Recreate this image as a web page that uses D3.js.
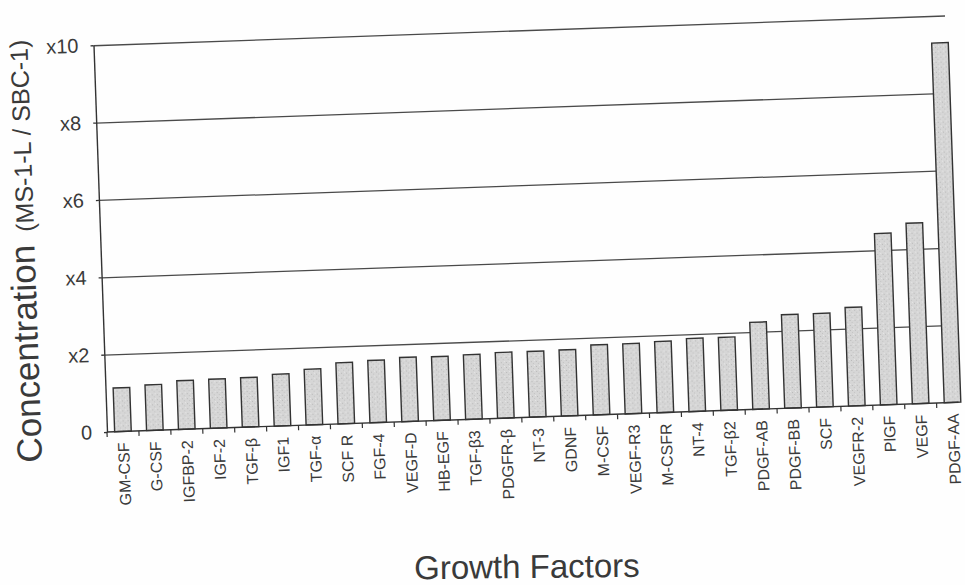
<!DOCTYPE html>
<html>
<head>
<meta charset="utf-8">
<script src="https://cdn.jsdelivr.net/npm/d3@7/dist/d3.min.js"></script>
<style>
  html, body { margin: 0; padding: 0; background: #ffffff; }
  svg { display: block; }
  text { font-family: "Liberation Sans", Arial, Helvetica, sans-serif; fill: #3a3a3a; }
</style>
</head>
<body>
<svg id="chart" width="965" height="585"></svg>
<script>
const categories = ["GM-CSF","G-CSF","IGFBP-2","IGF-2","TGF-β","IGF1","TGF-α","SCF R","FGF-4","VEGF-D",
  "HB-EGF","TGF-β3","PDGFR-β","NT-3","GDNF","M-CSF","VEGF-R3","M-CSFR","NT-4","TGF-β2",
  "PDGF-AB","PDGF-BB","SCF","VEGFR-2","PlGF","VEGF","PDGF-AA"];
const values = [1.13,1.18,1.26,1.27,1.28,1.34,1.44,1.58,1.61,1.66,
  1.65,1.67,1.70,1.70,1.71,1.81,1.81,1.84,1.89,1.89,
  2.25,2.42,2.42,2.55,4.43,4.67,9.3];
const yTicks = [0,2,4,6,8,10];
const yTickLabels = ["0","x2","x4","x6","x8","x10"];
const xTitle = "Growth Factors";
const yTitleMain = "Concentration";
const yTitleSub = "(MS-1-L / SBC-1)";

const svg = d3.select("#chart");
const W = 965, H = 585;
const mLeft = 107, mTop = 45, pWidth = 862, pHeight = 387, gridWidth = 852;

// stipple pattern for bars
const defs = svg.append("defs");
const pat = defs.append("pattern").attr("id","stip").attr("patternUnits","userSpaceOnUse")
  .attr("width",5).attr("height",5);
pat.append("rect").attr("width",5).attr("height",5).attr("fill","#d6d6d6");
pat.append("rect").attr("x",1).attr("y",1).attr("width",1).attr("height",1).attr("fill","#b8b8b8");
pat.append("rect").attr("x",3).attr("y",3).attr("width",1).attr("height",1).attr("fill","#c2c2c2");
pat.append("rect").attr("x",4).attr("y",0).attr("width",1).attr("height",1).attr("fill","#e8e8e8");

svg.append("rect").attr("width",W).attr("height",H).attr("fill","#fefefe");

const root = svg.append("g").attr("transform", `rotate(-2, ${mLeft}, ${mTop + pHeight})`);
const g = root.append("g").attr("transform", `translate(${mLeft},${mTop})`);

const x = d3.scaleBand().domain(categories).range([0, pWidth]).paddingInner(0.48).paddingOuter(0.24);
const y = d3.scaleLinear().domain([0, 10]).range([pHeight, 0]);

// gridlines
const grid = g.append("g").call(d3.axisLeft(y).tickValues(yTicks.filter(d => d > 0)).tickSize(-gridWidth).tickFormat(""));
grid.select(".domain").remove();
grid.selectAll("line").attr("stroke","#4a4a4a").attr("stroke-width",1.3);

// bars
g.append("g").selectAll("rect").data(categories).join("rect")
  .attr("x", d => x(d))
  .attr("y", (d,i) => y(values[i]))
  .attr("width", x.bandwidth())
  .attr("height", (d,i) => y(0) - y(values[i]))
  .attr("fill", "url(#stip)")
  .attr("stroke", "#333")
  .attr("stroke-width", 1.4);

// y axis with labels
const yAxis = g.append("g").call(d3.axisLeft(y).tickValues(yTicks)
  .tickFormat((d,i) => yTickLabels[i]).tickSize(3).tickSizeOuter(0).tickPadding(12));
yAxis.select(".domain").attr("stroke","#333").attr("stroke-width",1.4);
yAxis.selectAll("line").attr("stroke","#333").attr("stroke-width",1.3);
yAxis.selectAll("text").style("font-size","20px").attr("fill","#3a3a3a");

// x axis baseline and boundary ticks
g.append("line").attr("x1",0).attr("x2",gridWidth).attr("y1",y(0)).attr("y2",y(0))
  .attr("stroke","#333").attr("stroke-width",1.4);
const bounds = [0].concat(categories.map(c => x(c) + x.bandwidth() + x.step() * x.paddingInner() / 2));
g.append("g").selectAll("line").data(bounds.filter(d => d <= gridWidth)).join("line")
  .attr("x1", d => d).attr("x2", d => d)
  .attr("y1", y(0)).attr("y2", y(0) + 5)
  .attr("stroke","#333").attr("stroke-width",1.2);

// x labels
g.append("g").selectAll("text").data(categories).join("text")
  .attr("transform", d => `translate(${x(d) + x.bandwidth()/2},${y(0) + 11}) rotate(-90)`)
  .attr("text-anchor","end")
  .attr("dy","0.35em")
  .style("font-size","16px")
  .text(d => d);

// axis titles
svg.append("text")
  .attr("x", 527).attr("y", 578)
  .attr("text-anchor","middle")
  .attr("transform","rotate(-0.6, 527, 578)")
  .style("font-size","33px")
  .text(xTitle);

const titleBottom = 460;
const yt1 = root.append("text")
  .attr("transform", `translate(41,${titleBottom}) rotate(-90)`)
  .attr("text-anchor","start")
  .style("font-size","35px")
  .text(yTitleMain);
const len1 = yt1.node().getComputedTextLength();
root.append("text")
  .attr("transform", `translate(41,${titleBottom - len1 - 13}) rotate(-90)`)
  .attr("text-anchor","start")
  .style("font-size","25px")
  .text(yTitleSub);
</script>
</body>
</html>
